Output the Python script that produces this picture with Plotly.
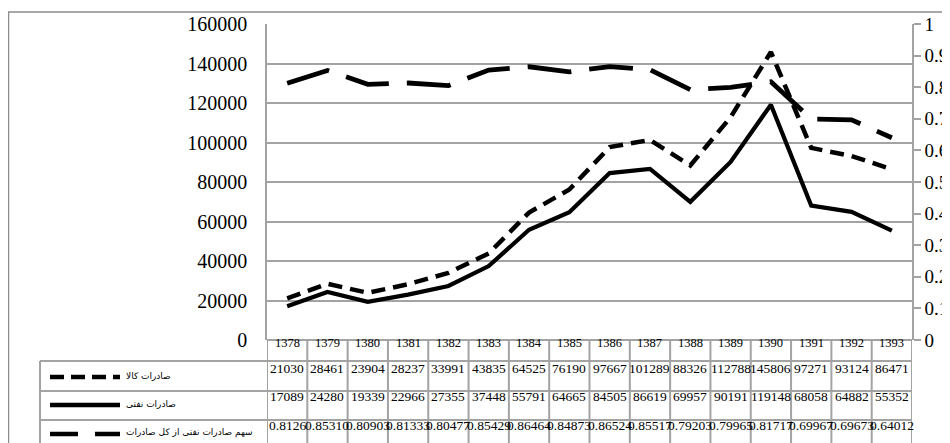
import plotly.graph_objects as go

years = ["1378", "1379", "1380", "1381", "1382", "1383", "1384", "1385",
         "1386", "1387", "1388", "1389", "1390", "1391", "1392", "1393"]
kala = [21030, 28461, 23904, 28237, 33991, 43835, 64525, 76190,
        97667, 101289, 88326, 112788, 145806, 97271, 93124, 86471]
naft = [17089, 24280, 19339, 22966, 27355, 37448, 55791, 64665,
        84505, 86619, 69957, 90191, 119148, 68058, 64882, 55352]
sahm_text = ["0.8126", "0.85310", "0.80903", "0.81333", "0.80477", "0.85429",
             "0.86464", "0.84873", "0.86524", "0.85517", "0.79203", "0.79965",
             "0.81717", "0.69967", "0.69673", "0.64012"]
sahm = [float(s) for s in sahm_text]

name_kala = "صادرات کالا"
name_naft = "صادرات نفتی"
name_sahm = "سهم صادرات نفتی از کل صادرات"

# page is offset by the body's 8px margin
OFF = 8
W, H = 950 - OFF, 443 - OFF
PL, PR, PT, PB = 267, 912, 24, 340          # plot area in page pixels
L, T = PL - OFF, PT - OFF
R = W - (PR - OFF)
B = H - (PB - OFF)
PW, PH = W - L - R, H - T - B
FONT = "Liberation Serif"
GRID = "#a3a3a3"


def fx(p):
    return (p - PL) / PW


def fy(p):
    return (PB - p) / PH


xs = list(range(len(years)))

fig = go.Figure()
fig.add_trace(go.Scatter(x=xs, y=kala, mode="lines", name=name_kala,
                         line=dict(color="black", width=4.5, dash="14px,8px")))
fig.add_trace(go.Scatter(x=xs, y=naft, mode="lines", name=name_naft,
                         line=dict(color="black", width=4.2)))
fig.add_trace(go.Scatter(x=xs, y=sahm, mode="lines", name=name_sahm, yaxis="y2",
                         line=dict(color="black", width=4.8, dash="44px,18px")))

shapes = []
annotations = []

# outer chart border
shapes.append(dict(type="rect", xref="paper", yref="paper",
                   x0=fx(8.5), x1=fx(990), y0=fy(490), y1=fy(12),
                   line=dict(color="#8c8c8c", width=1.5), layer="below"))

# table rows (page pixel boundaries)
row_top = [340, 361, 391, 420]
row_bot = [361, 391, 420, 452]
tbl_left = 40
shapes.append(dict(type="line", xref="paper", yref="paper", x0=0, x1=1,
                   y0=fy(340), y1=fy(340), line=dict(color=GRID, width=2)))
for yy in row_top[1:] + [row_bot[-1]]:
    shapes.append(dict(type="line", xref="paper", yref="paper", x0=fx(tbl_left), x1=1,
                       y0=fy(yy), y1=fy(yy), line=dict(color=GRID, width=2)))
for i in range(len(years) + 1):
    shapes.append(dict(type="line", xref="x", yref="paper", x0=i - 0.5, x1=i - 0.5,
                       y0=fy(340), y1=fy(row_bot[-1]), line=dict(color=GRID, width=2)))
shapes.append(dict(type="line", xref="paper", yref="paper", x0=fx(tbl_left), x1=fx(tbl_left),
                   y0=fy(361), y1=fy(row_bot[-1]), line=dict(color=GRID, width=2)))

# header row
for i, yr in enumerate(years):
    annotations.append(dict(x=i, y=fy(352), xref="x", yref="paper",
                            text=yr, showarrow=False,
                            font=dict(family=FONT, size=12.5, color="black")))

row_vals = [[str(v) for v in kala], [str(v) for v in naft], sahm_text]
row_names = [name_kala, name_naft, name_sahm]
row_dash = ["14px,7px", "solid", "28px,17px"]
row_cy = [378, 406, 435]
for r in range(3):
    cy = row_cy[r]
    for i, v in enumerate(row_vals[r]):
        annotations.append(dict(x=i, y=fy(cy), xref="x", yref="paper", text=v,
                                showarrow=False,
                                font=dict(family=FONT, size=13.5, color="black")))
    annotations.append(dict(x=fx(124), y=fy(cy + 5), xref="paper", yref="paper", text=row_names[r],
                            xanchor="left", showarrow=False,
                            font=dict(family="DejaVu Sans", size=9, color="black")))
    shapes.append(dict(type="line", xref="paper", yref="paper", x0=fx(50), x1=fx(120),
                       y0=fy(cy - 1), y1=fy(cy - 1),
                       line=dict(color="black", width=4.5, dash=row_dash[r])))

fig.update_layout(
    width=W, height=H,
    margin=dict(l=L, r=R, t=T, b=B, autoexpand=False),
    template="none",
    paper_bgcolor="white", plot_bgcolor="white",
    showlegend=False,
    font=dict(family=FONT, color="black"),
    xaxis=dict(range=[-0.5, len(years) - 0.5], showticklabels=False, showgrid=False,
               zeroline=False, showline=False, ticks="", automargin=False, fixedrange=True),
    yaxis=dict(range=[0, 160000], dtick=20000, tickformat="d", showgrid=True,
               gridcolor=GRID, gridwidth=1.5, zeroline=False, showline=True,
               linecolor=GRID, linewidth=1.5, ticks="", ticklabelstandoff=14,
               ticklabeloverflow="allow",
               tickfont=dict(family=FONT, size=20, color="black"), automargin=False),
    yaxis2=dict(range=[0, 1], dtick=0.1, overlaying="y", side="right", showgrid=False,
                zeroline=False, showline=True, linecolor=GRID, linewidth=1.5,
                ticks="outside", ticklen=7, tickcolor=GRID, tickwidth=1.5,
                ticklabelstandoff=0, ticklabeloverflow="allow",
                tickfont=dict(family=FONT, size=19, color="black"), automargin=False),
    shapes=shapes,
    annotations=annotations,
)

fig.write_html("out.html")
